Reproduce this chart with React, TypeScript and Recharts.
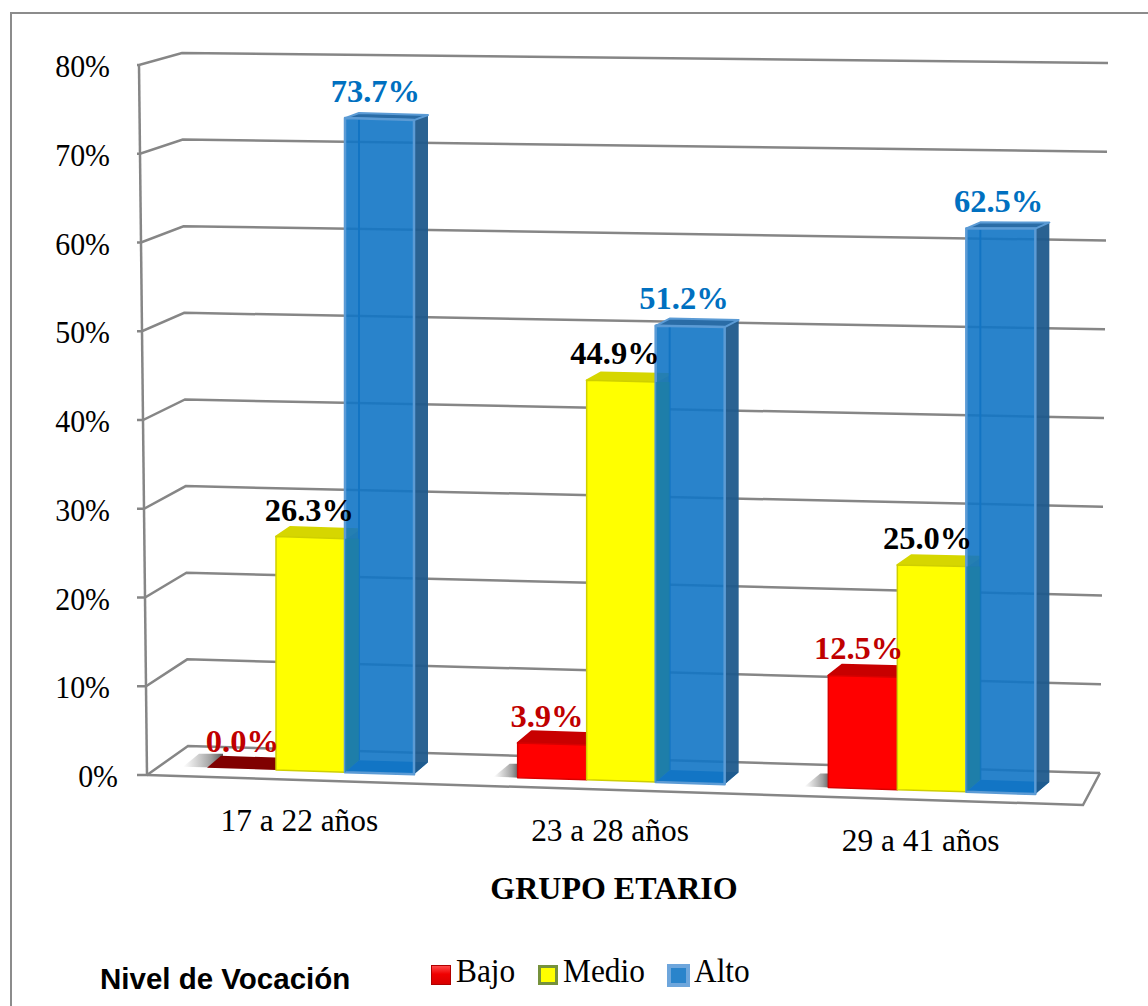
import { Bar, CartesianGrid, ComposedChart, LabelList, Legend, Line, XAxis, YAxis } from 'recharts';

const categories = ['17 a 22 años', '23 a 28 años', '29 a 41 años'];
const bajo = [0.0, 3.9, 12.5];
const medio = [26.3, 44.9, 25.0];
const alto = [73.7, 51.2, 62.5];
const yTicks = [0, 10, 20, 30, 40, 50, 60, 70, 80];

const data = categories.map((name, i) => ({ name, bajo: bajo[i], medio: medio[i], alto: alto[i] }));

const SERIF = '"Liberation Serif", serif';
const SANS = '"Liberation Sans", sans-serif';
const GRID = '#868686';
const BAR_W = 69;
const PLOT_BOTTOM = 775;
const PLOT_H = 710;

// the original is a tilted 3D chart: shear the flat scale positions onto its floor
const floorY = (x: number) => 770 + 0.0317 * (x - 277);
const lift = (x: number) => 1 + 4.0e-8 * (x - 340) * (x - 340);
const tiltY = (x: number, y: number) => floorY(x) - (PLOT_BOTTOM - y) * lift(x);
const pts = (list: number[][]) => list.map(p => p.join(',')).join(' ');

const looks: Record<string, any> = {
  red: { front: '#ff0000', top: '#c80000', zero: '#800000', side: '#a00000', edge: '#d80000' },
  yellow: { front: '#ffff00', top: '#d6d600', zero: '#d6d600', side: '#a8a800', edge: '#cfcf00' },
  blue: { front: '#1276c5', top: '#2a6ca6', zero: '#2a6ca6', side: '#1f5a8c', edge: '#5b9bd5' },
};

function Bar3D(props: any) {
  const { x, y, width, value, look, payload } = props;
  const c = looks[look];
  const x1 = x + width;
  const dx = 14;
  const depth = -12 + (7 * value) / 75;
  const bl = [x, floorY(x)];
  const br = [x1, floorY(x1)];
  const tl = [x, tiltY(x, y)];
  const tr = [x1, tiltY(x1, y)];
  const back = (p: number[], d: number) => [p[0] + dx, p[1] + d];
  const isBlue = look === 'blue';
  // the yellow bar's side shows through the blue front as a teal band
  const behindY = isBlue ? PLOT_BOTTOM - ((payload.medio || 0) * PLOT_H) / 80 : 0;
  const shadowEnd = value > 0 ? x + 2 : x + 16;

  return (
    <g>
      {look === 'red' && (
        <polygon
          points={pts([[x - 24, bl[1] - 1], [x - 8, bl[1] - 14], [shadowEnd, bl[1] - 14], [shadowEnd, bl[1]]])}
          fill="url(#floorShadow)"
        />
      )}
      {isBlue && (
        <>
          <polygon points={pts([bl, br, back(br, -12), back(bl, -12)])} fill="#1a74bd" />
          <line x1={bl[0] + dx} y1={bl[1] - 12} x2={tl[0] + dx} y2={tl[1] + depth} stroke="#1668a8" strokeWidth={2} />
        </>
      )}
      {value > 0 && (
        <polygon points={pts([br, back(br, -12), back(tr, depth), tr])} fill={c.side} fillOpacity={isBlue ? 0.95 : 1} />
      )}
      <polygon
        points={pts([tl, tr, back(tr, depth), back(tl, depth)])}
        fill={value > 0 ? c.top : c.zero}
        stroke={isBlue ? c.edge : value > 0 ? c.top : 'none'}
        strokeWidth={2}
        strokeLinejoin="round"
      />
      {value > 0 && (
        <polygon
          points={pts([bl, br, tr, tl])}
          fill={c.front}
          fillOpacity={isBlue ? 0.9 : 1}
          stroke={c.edge}
          strokeWidth={isBlue ? 2.5 : 1.5}
          strokeLinejoin="round"
        />
      )}
      {isBlue && (
        <polygon
          points={pts([bl, [x + dx, floorY(x) - 12], [x + dx, tiltY(x, behindY)], [x, tiltY(x, behindY)]])}
          fill="#1d7fa6"
          fillOpacity={0.75}
        />
      )}
    </g>
  );
}

function GridLine(props: any) {
  const { y1, index } = props;
  const t = (PLOT_BOTTOM - y1) / PLOT_H;
  const axisX = 147 - 8 * t;
  const wallX = 188 - 6 * t;
  const wallY = 746 - 693 * t;
  const endX = 1100 + 8 * t;
  const endY = 773 - 710 * t;
  const front = `M137 ${y1} L${axisX} ${y1} L${wallX} ${wallY} L${endX} ${endY}`;
  return (
    <g key={index} fill="none" stroke={GRID} strokeWidth={2.5}>
      <path d={front} />
      {t < 0.001 && (
        <>
          <path d={`M${axisX} ${y1} L1083 805 L${endX} ${endY}`} />
          <path d="M139 65 L147 775" />
        </>
      )}
    </g>
  );
}

function YTick({ y, payload }: any) {
  const right = payload.value === 0 ? 118 : 110;
  return (
    <text
      transform={`translate(${right} ${y + 12}) scale(0.92 1)`}
      textAnchor="end"
      fontFamily={SERIF}
      fontSize={32.5}
      fill="#000"
    >
      {payload.value}%
    </text>
  );
}

function XTick({ x, payload }: any) {
  return (
    <text
      transform={`translate(${x - 11} ${floorY(x) + 60}) scale(0.966 1)`}
      textAnchor="middle"
      fontFamily={SERIF}
      fontSize={32.5}
      fill="#000"
    >
      {payload.value}
    </text>
  );
}

// small nudges so each label sits where the perspective put it
const labelNudge = [
  [1, -1, -4],
  [-5, -6, -6],
  [-4, -4, -2],
];

// one label series per bar, shifted from the band centre to its own bar
const makeLabel = (slot: number, color: string) => (props: any) => {
  const { x, y, value, index } = props;
  const cx = x + slot * BAR_W;
  return (
    <text
      x={cx + labelNudge[index][slot + 1]}
      y={tiltY(cx, y) - 17}
      textAnchor="middle"
      fontFamily={SERIF}
      fontWeight="bold"
      fontSize={32.5}
      fill={color}
    >
      {Number(value).toFixed(1)}%
    </text>
  );
};

const iconStyles: Record<string, any> = {
  Bajo: { left: 431, top: 9, width: 20, height: 20, background: 'linear-gradient(180deg,#ff4a4a,#f00000 45%,#d80000)', border: '1px solid #b00000' },
  Medio: { left: 538, top: 9, width: 20, height: 20, background: '#ffff00', border: '3px solid #76923c' },
  Alto: { left: 667, top: 8, width: 23, height: 23, background: '#2a84cb', border: '4px solid #6ea6dc' },
};
const legendTextX: Record<string, number> = { Bajo: 456, Medio: 563, Alto: 694 };

function LegendBox({ payload }: any) {
  const items = (payload || []).filter((p: any) => iconStyles[p.value]);
  return (
    <div style={{ position: 'relative', height: 40 }}>
      <span style={{ position: 'absolute', left: 100, top: 6, fontFamily: SANS, fontWeight: 'bold', fontSize: 29.5, color: '#000', whiteSpace: 'nowrap' }}>
        Nivel de Vocación
      </span>
      {items.map((p: any) => (
        <span key={p.value}>
          <span style={{ position: 'absolute', boxSizing: 'border-box', ...iconStyles[p.value] }} />
          <span
            style={{
              position: 'absolute',
              left: legendTextX[p.value],
              top: -3,
              fontFamily: SERIF,
              fontSize: 33,
              color: '#000',
              transform: 'scaleX(0.95)',
              transformOrigin: 'left',
            }}
          >
            {p.value}
          </span>
        </span>
      ))}
    </div>
  );
}

export default function App() {
  return (
    <div style={{ position: 'absolute', left: 0, top: 0, width: 1148, height: 1006, background: '#fff', overflow: 'hidden' }}>
      <div style={{ position: 'absolute', left: 10, top: 12, width: 1138, height: 994, borderTop: '2px solid #8c8c8c', borderLeft: '2px solid #8c8c8c' }} />
      <div style={{ position: 'absolute', left: 0, top: 0 }}>
        <ComposedChart
          width={1148}
          height={1006}
          data={data}
          margin={{ top: 65, right: 61, bottom: 131, left: 95 }}
          barCategoryGap={(310.67 - 3 * BAR_W) / 2}
          barGap={0}
        >
          <defs>
            <linearGradient id="floorShadow" x1="0" y1="0" x2="1" y2="0">
              <stop offset="0" stopColor="#999" stopOpacity={0} />
              <stop offset="0.7" stopColor="#888" stopOpacity={0.8} />
              <stop offset="1" stopColor="#555" />
            </linearGradient>
          </defs>
          <CartesianGrid vertical={false} horizontal={(p: any) => <GridLine {...p} />} />
          <XAxis
            dataKey="name"
            height={100}
            axisLine={false}
            tickLine={false}
            interval={0}
            tick={<XTick />}
            label={{
              content: () => (
                <text x={614} y={899} textAnchor="middle" fontFamily={SERIF} fontWeight="bold" fontSize={32} fill="#000">
                  GRUPO ETARIO
                </text>
              ),
            }}
          />
          <YAxis width={60} domain={[0, 80]} ticks={yTicks} axisLine={false} tickLine={false} tick={<YTick />} />
          <Bar dataKey="bajo" name="Bajo" fill="#ff0000" barSize={BAR_W} isAnimationActive={false} shape={<Bar3D look="red" />} />
          <Bar dataKey="medio" name="Medio" fill="#ffff00" barSize={BAR_W} isAnimationActive={false} shape={<Bar3D look="yellow" />} />
          <Bar dataKey="alto" name="Alto" fill="#2a84cb" barSize={BAR_W} isAnimationActive={false} shape={<Bar3D look="blue" />} />
          <Line dataKey="bajo" stroke="none" dot={false} legendType="none" isAnimationActive={false}>
            <LabelList dataKey="bajo" content={makeLabel(-1, '#c00000')} />
          </Line>
          <Line dataKey="medio" stroke="none" dot={false} legendType="none" isAnimationActive={false}>
            <LabelList dataKey="medio" content={makeLabel(0, '#000000')} />
          </Line>
          <Line dataKey="alto" stroke="none" dot={false} legendType="none" isAnimationActive={false}>
            <LabelList dataKey="alto" content={makeLabel(1, '#0070c0')} />
          </Line>
          <Legend
            layout="horizontal"
            align="center"
            verticalAlign="middle"
            wrapperStyle={{ position: 'absolute', left: 0, top: 956, width: 1148, height: 40 }}
            content={<LegendBox />}
          />
        </ComposedChart>
      </div>
    </div>
  );
}
